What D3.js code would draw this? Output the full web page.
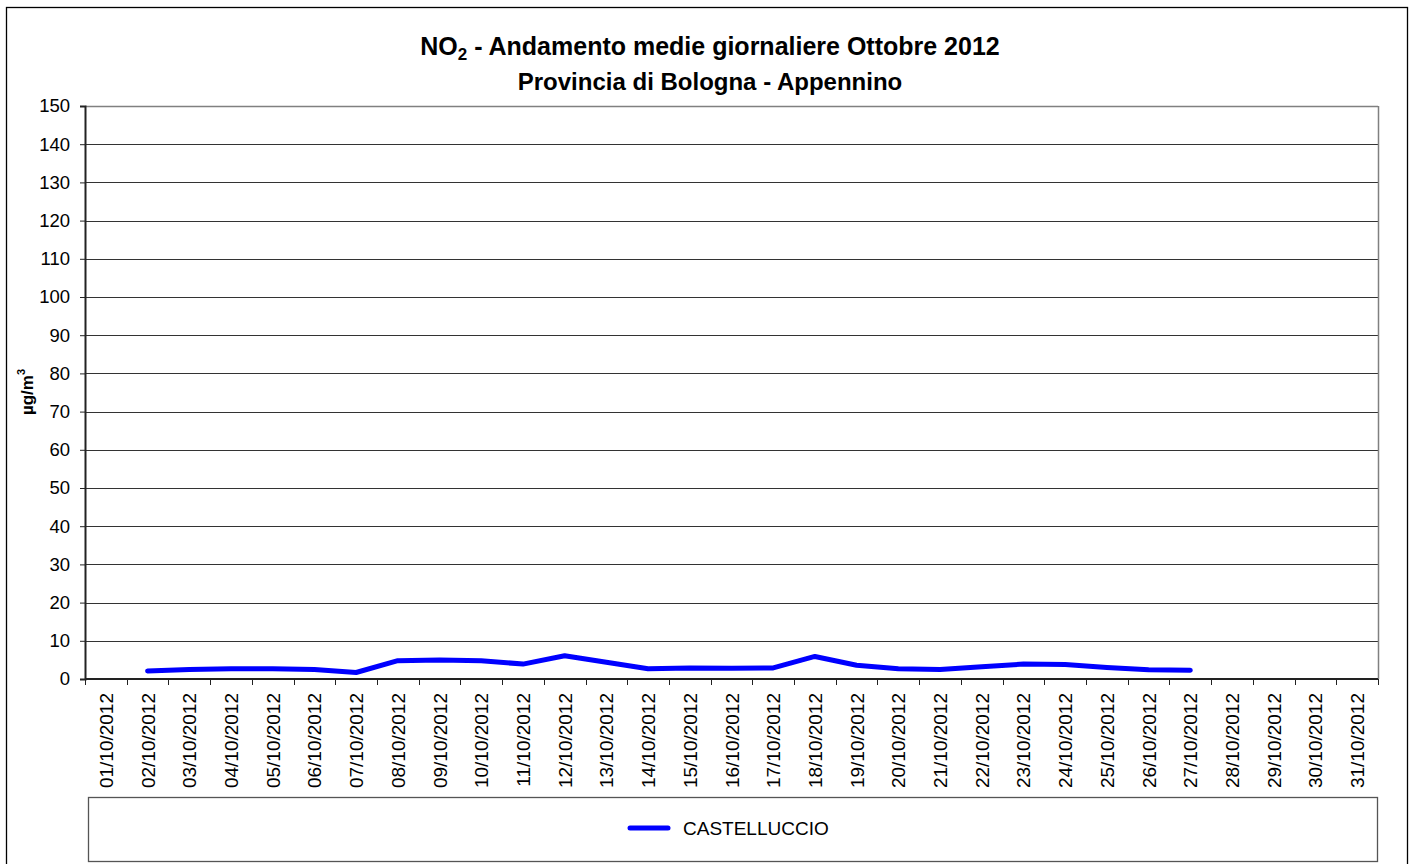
<!DOCTYPE html>
<html>
<head>
<meta charset="utf-8">
<script src="https://cdn.jsdelivr.net/npm/d3@7"></script>
<style>
  html, body { margin: 0; padding: 0; background: #fff; }
  svg { display: block; font-family: "Liberation Sans", Arial, sans-serif; }
</style>
</head>
<body>
<svg id="chart" width="1415" height="864"></svg>
<script>
// ---- data ----
const days = ["01/10/2012","02/10/2012","03/10/2012","04/10/2012","05/10/2012","06/10/2012","07/10/2012","08/10/2012","09/10/2012","10/10/2012","11/10/2012","12/10/2012","13/10/2012","14/10/2012","15/10/2012","16/10/2012","17/10/2012","18/10/2012","19/10/2012","20/10/2012","21/10/2012","22/10/2012","23/10/2012","24/10/2012","25/10/2012","26/10/2012","27/10/2012","28/10/2012","29/10/2012","30/10/2012","31/10/2012"];
const castelluccio = [null,2.1,2.5,2.7,2.7,2.5,1.7,4.8,5.0,4.8,3.9,6.1,4.4,2.7,2.9,2.8,2.9,5.9,3.6,2.7,2.5,3.2,3.9,3.8,3.0,2.4,2.3,null,null,null,null];
const seriesName = "CASTELLUCCIO";
const yTicks = [0,10,20,30,40,50,60,70,80,90,100,110,120,130,140,150];
const titleLine2 = "Provincia di Bologna - Appennino";

const svg = d3.select("#chart");
const m = {left: 85, right: 1378, top: 106, bottom: 679};

// outer frame
svg.append("rect").attr("x", 6.5).attr("y", 7.5).attr("width", 1401).attr("height", 870)
  .attr("fill", "none").attr("stroke", "#000").attr("stroke-width", 1.3);

const x = d3.scaleBand().domain(days).range([m.left, m.right]).paddingInner(0).paddingOuter(0);
const y = d3.scaleLinear().domain([0, 150]).range([m.bottom, m.top]);

// gridlines
svg.append("g").selectAll("line").data(yTicks.filter(v => v > 0)).join("line")
  .attr("x1", m.left).attr("x2", m.right)
  .attr("y1", d => Math.round(y(d)) + 0.5).attr("y2", d => Math.round(y(d)) + 0.5)
  .attr("stroke", "#333").attr("stroke-width", 1);

// plot area right/top border
svg.append("line").attr("x1", m.right + 0.5).attr("x2", m.right + 0.5)
  .attr("y1", m.top).attr("y2", m.bottom).attr("stroke", "#808080").attr("stroke-width", 1.5);
svg.append("line").attr("x1", m.left).attr("x2", m.right)
  .attr("y1", m.top + 0.5).attr("y2", m.top + 0.5).attr("stroke", "#808080").attr("stroke-width", 1.5);

// y axis
const yAxis = d3.axisLeft(y).tickValues(yTicks).tickSize(5).tickPadding(10).tickFormat(d3.format("d"));
const gy = svg.append("g").attr("transform", `translate(${m.left},0)`).call(yAxis);
gy.select(".domain").attr("stroke", "#222").attr("stroke-width", 2);
gy.selectAll(".tick line").attr("stroke", "#222").attr("stroke-width", 1);
gy.selectAll(".tick text").attr("font-size", 18.5).attr("fill", "#000")
  .attr("font-family", "Liberation Sans, Arial, sans-serif");

// x axis: ticks at category boundaries
const xAxisG = svg.append("g");
xAxisG.append("line").attr("x1", m.left).attr("x2", m.right)
  .attr("y1", m.bottom).attr("y2", m.bottom).attr("stroke", "#222").attr("stroke-width", 2);
const bounds = days.map(d => x(d)).concat([x(days[days.length - 1]) + x.bandwidth()]);
xAxisG.selectAll("line.tk").data(bounds).join("line").attr("class", "tk")
  .attr("x1", d => Math.round(d) + 0.5).attr("x2", d => Math.round(d) + 0.5)
  .attr("y1", m.bottom).attr("y2", m.bottom + 6).attr("stroke", "#222").attr("stroke-width", 1);
xAxisG.selectAll("text").data(days).join("text")
  .attr("transform", d => `translate(${x(d) + x.bandwidth() / 2 + 7},${m.bottom + 14}) rotate(-90)`)
  .attr("text-anchor", "end")
  .attr("font-size", 19).attr("fill", "#000")
  .text(d => d);

// line
const line = d3.line()
  .defined(d => d.v != null)
  .x(d => x(d.day) + x.bandwidth() / 2)
  .y(d => y(d.v));
const pts = days.map((d, i) => ({day: d, v: castelluccio[i]}));
svg.append("path").datum(pts).attr("d", line)
  .attr("fill", "none").attr("stroke", "#0000FF").attr("stroke-width", 5)
  .attr("stroke-linejoin", "round").attr("stroke-linecap", "round");

// title
const title = svg.append("text").attr("x", 710).attr("y", 55).attr("text-anchor", "middle")
  .attr("font-size", 25).attr("font-weight", "bold").attr("fill", "#000");
title.append("tspan").text("NO");
title.append("tspan").attr("font-size", 17).attr("dy", 5).text("2");
title.append("tspan").attr("dy", -5).text(" - Andamento medie giornaliere Ottobre 2012");
svg.append("text").attr("x", 710).attr("y", 90).attr("text-anchor", "middle")
  .attr("font-size", 24).attr("font-weight", "bold").attr("fill", "#000").text(titleLine2);

// y label
const yl = svg.append("text").attr("transform", "translate(33,392) rotate(-90)")
  .attr("text-anchor", "middle").attr("font-size", 17).attr("font-weight", "bold");
yl.append("tspan").text("µg/m");
yl.append("tspan").attr("font-size", 11).attr("dy", -8).text("3");

// legend
svg.append("rect").attr("x", 88.5).attr("y", 797.5).attr("width", 1289).attr("height", 64)
  .attr("fill", "none").attr("stroke", "#555").attr("stroke-width", 1.3);
svg.append("line").attr("x1", 630).attr("x2", 668).attr("y1", 828).attr("y2", 828)
  .attr("stroke", "#0000FF").attr("stroke-width", 5).attr("stroke-linecap", "round");
svg.append("text").attr("x", 683).attr("y", 835).attr("font-size", 19).attr("fill", "#000").text(seriesName);
</script>
</body>
</html>
